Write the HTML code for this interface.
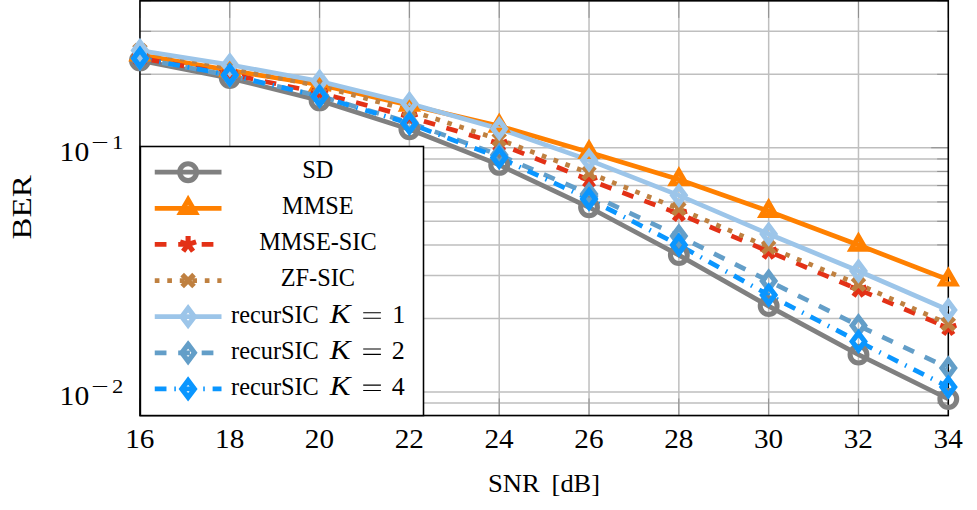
<!DOCTYPE html>
<html><head><meta charset="utf-8"><title>BER vs SNR</title>
<style>html,body{margin:0;padding:0;background:#fff;}body{width:977px;height:510px;overflow:hidden;position:relative;font-family:"Liberation Serif",serif;}</style>
</head><body>
<svg width="977" height="510" viewBox="0 0 977 510" style="position:absolute;left:0;top:0">
<rect width="977" height="510" fill="#fff"/>
<path d="M229.77,0.8V415.55M319.58,0.8V415.55M409.40,0.8V415.55M499.22,0.8V415.55M589.03,0.8V415.55M678.85,0.8V415.55M768.67,0.8V415.55M858.48,0.8V415.55M139.95,147.77H948.30M139.95,391.89H948.30M139.95,74.29H948.30M139.95,31.30H948.30M139.95,0.80H948.30M139.95,318.41H948.30M139.95,275.42H948.30M139.95,244.92H948.30M139.95,221.26H948.30M139.95,201.93H948.30M139.95,185.59H948.30M139.95,171.43H948.30M139.95,158.94H948.30M139.95,415.55H948.30M139.95,403.06H948.30" stroke="#bfbfbf" stroke-width="1.5" fill="none"/>
<path d="M139.95,415.55v-17.10M139.95,0.8v17.10M229.77,415.55v-17.10M229.77,0.8v17.10M319.58,415.55v-17.10M319.58,0.8v17.10M409.40,415.55v-17.10M409.40,0.8v17.10M499.22,415.55v-17.10M499.22,0.8v17.10M589.03,415.55v-17.10M589.03,0.8v17.10M678.85,415.55v-17.10M678.85,0.8v17.10M768.67,415.55v-17.10M768.67,0.8v17.10M858.48,415.55v-17.10M858.48,0.8v17.10M948.30,415.55v-17.10M948.30,0.8v17.10M139.95,147.77h17.10M948.30,147.77h-17.10M139.95,391.89h17.10M948.30,391.89h-17.10M139.95,74.29h11.13M948.30,74.29h-11.13M139.95,31.30h11.13M948.30,31.30h-11.13M139.95,0.80h11.13M948.30,0.80h-11.13M139.95,318.41h11.13M948.30,318.41h-11.13M139.95,275.42h11.13M948.30,275.42h-11.13M139.95,244.92h11.13M948.30,244.92h-11.13M139.95,221.26h11.13M948.30,221.26h-11.13M139.95,201.93h11.13M948.30,201.93h-11.13M139.95,185.59h11.13M948.30,185.59h-11.13M139.95,171.43h11.13M948.30,171.43h-11.13M139.95,158.94h11.13M948.30,158.94h-11.13M139.95,415.55h11.13M948.30,415.55h-11.13M139.95,403.06h11.13M948.30,403.06h-11.13" stroke="#808080" stroke-width="0.8" fill="none"/>
<rect x="139.95" y="0.8" width="808.35" height="414.75" fill="none" stroke="#000" stroke-width="1.56"/>
<defs><clipPath id="cp"><rect x="139.95" y="0.8" width="808.35" height="414.75"/></clipPath></defs>
<polyline points="139.95,60.40 229.77,78.10 319.58,100.40 409.40,129.30 499.22,164.90 589.03,207.30 678.85,255.10 768.67,306.10 858.48,354.60 948.30,399.00" fill="none" stroke="#808080" stroke-width="4.69" stroke-linejoin="miter" clip-path="url(#cp)"/>
<polyline points="139.95,54.70 229.77,70.40 319.58,84.80 409.40,105.10 499.22,126.00 589.03,152.20 678.85,179.60 768.67,211.20 858.48,245.00 948.30,279.80" fill="none" stroke="#ff8000" stroke-width="4.69" stroke-linejoin="miter" clip-path="url(#cp)"/>
<polyline points="139.95,58.00 229.77,74.20 319.58,92.80 409.40,116.80 499.22,143.80 589.03,180.00 678.85,213.80 768.67,251.50 858.48,289.50 948.30,327.80" fill="none" stroke="#e33116" stroke-width="4.69" stroke-linejoin="miter" clip-path="url(#cp)" stroke-dasharray="11.73 11.73" stroke-dashoffset="-9.6"/>
<polyline points="139.95,50.50 229.77,68.30 319.58,86.00 409.40,110.30 499.22,139.60 589.03,173.00 678.85,208.70 768.67,247.20 858.48,284.30 948.30,324.00" fill="none" stroke="#bf8040" stroke-width="4.69" stroke-linejoin="miter" clip-path="url(#cp)" stroke-dasharray="4.69 7.82" stroke-dashoffset="-3.3"/>
<polyline points="139.95,50.50 229.77,64.80 319.58,81.20 409.40,103.40 499.22,128.70 589.03,160.10 678.85,195.30 768.67,234.00 858.48,271.00 948.30,310.00" fill="none" stroke="#9cc5e9" stroke-width="4.69" stroke-linejoin="miter" clip-path="url(#cp)"/>
<polyline points="139.95,58.50 229.77,75.50 319.58,96.00 409.40,122.50 499.22,155.00 589.03,194.00 678.85,236.00 768.67,281.00 858.48,325.60 948.30,368.00" fill="none" stroke="#639ec8" stroke-width="4.69" stroke-linejoin="miter" clip-path="url(#cp)" stroke-dasharray="11.73 11.73" stroke-dashoffset="0.9"/>
<polyline points="139.95,58.20 229.77,75.00 319.58,96.40 409.40,123.50 499.22,157.60 589.03,199.00 678.85,245.00 768.67,295.00 858.48,341.50 948.30,387.00" fill="none" stroke="#0a96ff" stroke-width="4.69" stroke-linejoin="miter" clip-path="url(#cp)" stroke-dasharray="11.73 7.82 1.56 7.82"/>
<circle cx="139.95" cy="60.40" r="8.40" fill="none" stroke="#808080" stroke-width="5.10"/>
<circle cx="229.77" cy="78.10" r="8.40" fill="none" stroke="#808080" stroke-width="5.10"/>
<circle cx="319.58" cy="100.40" r="8.40" fill="none" stroke="#808080" stroke-width="5.10"/>
<circle cx="409.40" cy="129.30" r="8.40" fill="none" stroke="#808080" stroke-width="5.10"/>
<circle cx="499.22" cy="164.90" r="8.40" fill="none" stroke="#808080" stroke-width="5.10"/>
<circle cx="589.03" cy="207.30" r="8.40" fill="none" stroke="#808080" stroke-width="5.10"/>
<circle cx="678.85" cy="255.10" r="8.40" fill="none" stroke="#808080" stroke-width="5.10"/>
<circle cx="768.67" cy="306.10" r="8.40" fill="none" stroke="#808080" stroke-width="5.10"/>
<circle cx="858.48" cy="354.60" r="8.40" fill="none" stroke="#808080" stroke-width="5.10"/>
<circle cx="948.30" cy="399.00" r="8.40" fill="none" stroke="#808080" stroke-width="5.10"/>
<path d="M139.95,46.30 L132.68,58.90 L147.22,58.90Z" fill="none" stroke="#ff8000" stroke-width="5.10" stroke-linejoin="miter" stroke-miterlimit="10"/>
<path d="M229.77,62.00 L222.49,74.60 L237.04,74.60Z" fill="none" stroke="#ff8000" stroke-width="5.10" stroke-linejoin="miter" stroke-miterlimit="10"/>
<path d="M319.58,76.40 L312.31,89.00 L326.86,89.00Z" fill="none" stroke="#ff8000" stroke-width="5.10" stroke-linejoin="miter" stroke-miterlimit="10"/>
<path d="M409.40,96.70 L402.13,109.30 L416.67,109.30Z" fill="none" stroke="#ff8000" stroke-width="5.10" stroke-linejoin="miter" stroke-miterlimit="10"/>
<path d="M499.22,117.60 L491.94,130.20 L506.49,130.20Z" fill="none" stroke="#ff8000" stroke-width="5.10" stroke-linejoin="miter" stroke-miterlimit="10"/>
<path d="M589.03,143.80 L581.76,156.40 L596.31,156.40Z" fill="none" stroke="#ff8000" stroke-width="5.10" stroke-linejoin="miter" stroke-miterlimit="10"/>
<path d="M678.85,171.20 L671.58,183.80 L686.12,183.80Z" fill="none" stroke="#ff8000" stroke-width="5.10" stroke-linejoin="miter" stroke-miterlimit="10"/>
<path d="M768.67,202.80 L761.39,215.40 L775.94,215.40Z" fill="none" stroke="#ff8000" stroke-width="5.10" stroke-linejoin="miter" stroke-miterlimit="10"/>
<path d="M858.48,236.60 L851.21,249.20 L865.76,249.20Z" fill="none" stroke="#ff8000" stroke-width="5.10" stroke-linejoin="miter" stroke-miterlimit="10"/>
<path d="M948.30,271.40 L941.03,284.00 L955.57,284.00Z" fill="none" stroke="#ff8000" stroke-width="5.10" stroke-linejoin="miter" stroke-miterlimit="10"/>
<path d="M139.95,58.00L139.95,49.60M139.95,58.00L131.96,55.40M139.95,58.00L135.01,64.80M139.95,58.00L144.89,64.80M139.95,58.00L147.94,55.40" fill="none" stroke="#e33116" stroke-width="5.10"/>
<path d="M229.77,74.20L229.77,65.80M229.77,74.20L221.78,71.60M229.77,74.20L224.83,81.00M229.77,74.20L234.70,81.00M229.77,74.20L237.76,71.60" fill="none" stroke="#e33116" stroke-width="5.10"/>
<path d="M319.58,92.80L319.58,84.40M319.58,92.80L311.59,90.20M319.58,92.80L314.65,99.60M319.58,92.80L324.52,99.60M319.58,92.80L327.57,90.20" fill="none" stroke="#e33116" stroke-width="5.10"/>
<path d="M409.40,116.80L409.40,108.40M409.40,116.80L401.41,114.20M409.40,116.80L404.46,123.60M409.40,116.80L414.34,123.60M409.40,116.80L417.39,114.20" fill="none" stroke="#e33116" stroke-width="5.10"/>
<path d="M499.22,143.80L499.22,135.40M499.22,143.80L491.23,141.20M499.22,143.80L494.28,150.60M499.22,143.80L504.15,150.60M499.22,143.80L507.21,141.20" fill="none" stroke="#e33116" stroke-width="5.10"/>
<path d="M589.03,180.00L589.03,171.60M589.03,180.00L581.04,177.40M589.03,180.00L584.10,186.80M589.03,180.00L593.97,186.80M589.03,180.00L597.02,177.40" fill="none" stroke="#e33116" stroke-width="5.10"/>
<path d="M678.85,213.80L678.85,205.40M678.85,213.80L670.86,211.20M678.85,213.80L673.91,220.60M678.85,213.80L683.79,220.60M678.85,213.80L686.84,211.20" fill="none" stroke="#e33116" stroke-width="5.10"/>
<path d="M768.67,251.50L768.67,243.10M768.67,251.50L760.68,248.90M768.67,251.50L763.73,258.30M768.67,251.50L773.60,258.30M768.67,251.50L776.66,248.90" fill="none" stroke="#e33116" stroke-width="5.10"/>
<path d="M858.48,289.50L858.48,281.10M858.48,289.50L850.49,286.90M858.48,289.50L853.55,296.30M858.48,289.50L863.42,296.30M858.48,289.50L866.47,286.90" fill="none" stroke="#e33116" stroke-width="5.10"/>
<path d="M948.30,327.80L948.30,319.40M948.30,327.80L940.31,325.20M948.30,327.80L943.36,334.60M948.30,327.80L953.24,334.60M948.30,327.80L956.29,325.20" fill="none" stroke="#e33116" stroke-width="5.10"/>
<path d="M134.01,44.56L145.89,56.44M134.01,56.44L145.89,44.56" fill="none" stroke="#bf8040" stroke-width="5.10"/>
<path d="M223.83,62.36L235.71,74.24M223.83,74.24L235.71,62.36" fill="none" stroke="#bf8040" stroke-width="5.10"/>
<path d="M313.64,80.06L325.52,91.94M313.64,91.94L325.52,80.06" fill="none" stroke="#bf8040" stroke-width="5.10"/>
<path d="M403.46,104.36L415.34,116.24M403.46,116.24L415.34,104.36" fill="none" stroke="#bf8040" stroke-width="5.10"/>
<path d="M493.28,133.66L505.16,145.54M493.28,145.54L505.16,133.66" fill="none" stroke="#bf8040" stroke-width="5.10"/>
<path d="M583.09,167.06L594.97,178.94M583.09,178.94L594.97,167.06" fill="none" stroke="#bf8040" stroke-width="5.10"/>
<path d="M672.91,202.76L684.79,214.64M672.91,214.64L684.79,202.76" fill="none" stroke="#bf8040" stroke-width="5.10"/>
<path d="M762.73,241.26L774.61,253.14M762.73,253.14L774.61,241.26" fill="none" stroke="#bf8040" stroke-width="5.10"/>
<path d="M852.54,278.36L864.42,290.24M852.54,290.24L864.42,278.36" fill="none" stroke="#bf8040" stroke-width="5.10"/>
<path d="M942.36,318.06L954.24,329.94M942.36,329.94L954.24,318.06" fill="none" stroke="#bf8040" stroke-width="5.10"/>
<path d="M139.95,42.10 L146.25,50.50 L139.95,58.90 L133.65,50.50Z" fill="none" stroke="#9cc5e9" stroke-width="5.10" stroke-linejoin="miter" stroke-miterlimit="10"/>
<path d="M229.77,56.40 L236.07,64.80 L229.77,73.20 L223.47,64.80Z" fill="none" stroke="#9cc5e9" stroke-width="5.10" stroke-linejoin="miter" stroke-miterlimit="10"/>
<path d="M319.58,72.80 L325.88,81.20 L319.58,89.60 L313.28,81.20Z" fill="none" stroke="#9cc5e9" stroke-width="5.10" stroke-linejoin="miter" stroke-miterlimit="10"/>
<path d="M409.40,95.00 L415.70,103.40 L409.40,111.80 L403.10,103.40Z" fill="none" stroke="#9cc5e9" stroke-width="5.10" stroke-linejoin="miter" stroke-miterlimit="10"/>
<path d="M499.22,120.30 L505.52,128.70 L499.22,137.10 L492.92,128.70Z" fill="none" stroke="#9cc5e9" stroke-width="5.10" stroke-linejoin="miter" stroke-miterlimit="10"/>
<path d="M589.03,151.70 L595.33,160.10 L589.03,168.50 L582.73,160.10Z" fill="none" stroke="#9cc5e9" stroke-width="5.10" stroke-linejoin="miter" stroke-miterlimit="10"/>
<path d="M678.85,186.90 L685.15,195.30 L678.85,203.70 L672.55,195.30Z" fill="none" stroke="#9cc5e9" stroke-width="5.10" stroke-linejoin="miter" stroke-miterlimit="10"/>
<path d="M768.67,225.60 L774.97,234.00 L768.67,242.40 L762.37,234.00Z" fill="none" stroke="#9cc5e9" stroke-width="5.10" stroke-linejoin="miter" stroke-miterlimit="10"/>
<path d="M858.48,262.60 L864.78,271.00 L858.48,279.40 L852.18,271.00Z" fill="none" stroke="#9cc5e9" stroke-width="5.10" stroke-linejoin="miter" stroke-miterlimit="10"/>
<path d="M948.30,301.60 L954.60,310.00 L948.30,318.40 L942.00,310.00Z" fill="none" stroke="#9cc5e9" stroke-width="5.10" stroke-linejoin="miter" stroke-miterlimit="10"/>
<path d="M139.95,50.10 L146.25,58.50 L139.95,66.90 L133.65,58.50Z" fill="none" stroke="#639ec8" stroke-width="5.10" stroke-linejoin="miter" stroke-miterlimit="10"/>
<path d="M229.77,67.10 L236.07,75.50 L229.77,83.90 L223.47,75.50Z" fill="none" stroke="#639ec8" stroke-width="5.10" stroke-linejoin="miter" stroke-miterlimit="10"/>
<path d="M319.58,87.60 L325.88,96.00 L319.58,104.40 L313.28,96.00Z" fill="none" stroke="#639ec8" stroke-width="5.10" stroke-linejoin="miter" stroke-miterlimit="10"/>
<path d="M409.40,114.10 L415.70,122.50 L409.40,130.90 L403.10,122.50Z" fill="none" stroke="#639ec8" stroke-width="5.10" stroke-linejoin="miter" stroke-miterlimit="10"/>
<path d="M499.22,146.60 L505.52,155.00 L499.22,163.40 L492.92,155.00Z" fill="none" stroke="#639ec8" stroke-width="5.10" stroke-linejoin="miter" stroke-miterlimit="10"/>
<path d="M589.03,185.60 L595.33,194.00 L589.03,202.40 L582.73,194.00Z" fill="none" stroke="#639ec8" stroke-width="5.10" stroke-linejoin="miter" stroke-miterlimit="10"/>
<path d="M678.85,227.60 L685.15,236.00 L678.85,244.40 L672.55,236.00Z" fill="none" stroke="#639ec8" stroke-width="5.10" stroke-linejoin="miter" stroke-miterlimit="10"/>
<path d="M768.67,272.60 L774.97,281.00 L768.67,289.40 L762.37,281.00Z" fill="none" stroke="#639ec8" stroke-width="5.10" stroke-linejoin="miter" stroke-miterlimit="10"/>
<path d="M858.48,317.20 L864.78,325.60 L858.48,334.00 L852.18,325.60Z" fill="none" stroke="#639ec8" stroke-width="5.10" stroke-linejoin="miter" stroke-miterlimit="10"/>
<path d="M948.30,359.60 L954.60,368.00 L948.30,376.40 L942.00,368.00Z" fill="none" stroke="#639ec8" stroke-width="5.10" stroke-linejoin="miter" stroke-miterlimit="10"/>
<path d="M139.95,49.80 L146.25,58.20 L139.95,66.60 L133.65,58.20Z" fill="none" stroke="#0a96ff" stroke-width="5.10" stroke-linejoin="miter" stroke-miterlimit="10"/>
<path d="M229.77,66.60 L236.07,75.00 L229.77,83.40 L223.47,75.00Z" fill="none" stroke="#0a96ff" stroke-width="5.10" stroke-linejoin="miter" stroke-miterlimit="10"/>
<path d="M319.58,88.00 L325.88,96.40 L319.58,104.80 L313.28,96.40Z" fill="none" stroke="#0a96ff" stroke-width="5.10" stroke-linejoin="miter" stroke-miterlimit="10"/>
<path d="M409.40,115.10 L415.70,123.50 L409.40,131.90 L403.10,123.50Z" fill="none" stroke="#0a96ff" stroke-width="5.10" stroke-linejoin="miter" stroke-miterlimit="10"/>
<path d="M499.22,149.20 L505.52,157.60 L499.22,166.00 L492.92,157.60Z" fill="none" stroke="#0a96ff" stroke-width="5.10" stroke-linejoin="miter" stroke-miterlimit="10"/>
<path d="M589.03,190.60 L595.33,199.00 L589.03,207.40 L582.73,199.00Z" fill="none" stroke="#0a96ff" stroke-width="5.10" stroke-linejoin="miter" stroke-miterlimit="10"/>
<path d="M678.85,236.60 L685.15,245.00 L678.85,253.40 L672.55,245.00Z" fill="none" stroke="#0a96ff" stroke-width="5.10" stroke-linejoin="miter" stroke-miterlimit="10"/>
<path d="M768.67,286.60 L774.97,295.00 L768.67,303.40 L762.37,295.00Z" fill="none" stroke="#0a96ff" stroke-width="5.10" stroke-linejoin="miter" stroke-miterlimit="10"/>
<path d="M858.48,333.10 L864.78,341.50 L858.48,349.90 L852.18,341.50Z" fill="none" stroke="#0a96ff" stroke-width="5.10" stroke-linejoin="miter" stroke-miterlimit="10"/>
<path d="M948.30,378.60 L954.60,387.00 L948.30,395.40 L942.00,387.00Z" fill="none" stroke="#0a96ff" stroke-width="5.10" stroke-linejoin="miter" stroke-miterlimit="10"/>
<rect x="140.4" y="146.5" width="283.10" height="269.05" fill="#fff" stroke="#000" stroke-width="1.56"/>
<path d="M154.75,172.20H221.5" fill="none" stroke="#808080" stroke-width="4.69"/>
<circle cx="188.10" cy="172.20" r="8.40" fill="none" stroke="#808080" stroke-width="5.10"/>
<path d="M154.75,208.32H221.5" fill="none" stroke="#ff8000" stroke-width="4.69"/>
<path d="M188.10,199.92 L180.83,212.52 L195.37,212.52Z" fill="none" stroke="#ff8000" stroke-width="5.10" stroke-linejoin="miter" stroke-miterlimit="10"/>
<path d="M154.75,244.44H221.5" fill="none" stroke="#e33116" stroke-width="4.69" stroke-dasharray="11.73 11.73"/>
<path d="M188.10,244.44L188.10,236.04M188.10,244.44L180.11,241.84M188.10,244.44L183.16,251.24M188.10,244.44L193.04,251.24M188.10,244.44L196.09,241.84" fill="none" stroke="#e33116" stroke-width="5.10"/>
<path d="M154.75,280.56H221.5" fill="none" stroke="#bf8040" stroke-width="4.69" stroke-dasharray="4.69 7.82"/>
<path d="M182.16,274.62L194.04,286.50M182.16,286.50L194.04,274.62" fill="none" stroke="#bf8040" stroke-width="5.10"/>
<path d="M154.75,316.68H221.5" fill="none" stroke="#9cc5e9" stroke-width="4.69"/>
<path d="M188.10,308.28 L194.40,316.68 L188.10,325.08 L181.80,316.68Z" fill="none" stroke="#9cc5e9" stroke-width="5.10" stroke-linejoin="miter" stroke-miterlimit="10"/>
<path d="M154.75,352.80H221.5" fill="none" stroke="#639ec8" stroke-width="4.69" stroke-dasharray="11.73 11.73"/>
<path d="M188.10,344.40 L194.40,352.80 L188.10,361.20 L181.80,352.80Z" fill="none" stroke="#639ec8" stroke-width="5.10" stroke-linejoin="miter" stroke-miterlimit="10"/>
<path d="M154.75,388.92H221.5" fill="none" stroke="#0a96ff" stroke-width="4.69" stroke-dasharray="11.73 7.82 1.56 7.82"/>
<path d="M188.10,380.52 L194.40,388.92 L188.10,397.32 L181.80,388.92Z" fill="none" stroke="#0a96ff" stroke-width="5.10" stroke-linejoin="miter" stroke-miterlimit="10"/>
<text x="317.90" y="177.90" font-family="Liberation Serif, serif" font-size="24.3" text-anchor="middle" >SD</text>
<text x="317.90" y="214.05" font-family="Liberation Serif, serif" font-size="24.3" text-anchor="middle" >MMSE</text>
<text x="317.90" y="250.20" font-family="Liberation Serif, serif" font-size="24.3" text-anchor="middle" >MMSE-SIC</text>
<text x="317.90" y="286.35" font-family="Liberation Serif, serif" font-size="24.3" text-anchor="middle" >ZF-SIC</text>
<text x="231.10" y="322.50" font-family="Liberation Serif, serif" font-size="24.3" text-anchor="start" >recurSIC</text>
<text transform="translate(329.8,322.50) scale(1.17,1)" font-family="Liberation Serif, serif" font-size="26.6" font-style="italic">K</text>
<path d="M363.2,312.80H380.9M363.2,318.20H380.9" stroke="#000" stroke-width="1.1" fill="none"/>
<text x="392.20" y="322.50" font-family="Liberation Serif, serif" font-size="26" text-anchor="start" >1</text>
<text x="231.10" y="358.65" font-family="Liberation Serif, serif" font-size="24.3" text-anchor="start" >recurSIC</text>
<text transform="translate(329.8,358.65) scale(1.17,1)" font-family="Liberation Serif, serif" font-size="26.6" font-style="italic">K</text>
<path d="M363.2,348.95H380.9M363.2,354.35H380.9" stroke="#000" stroke-width="1.1" fill="none"/>
<text x="391.80" y="358.65" font-family="Liberation Serif, serif" font-size="26" text-anchor="start" >2</text>
<text x="231.10" y="394.80" font-family="Liberation Serif, serif" font-size="24.3" text-anchor="start" >recurSIC</text>
<text transform="translate(329.8,394.80) scale(1.17,1)" font-family="Liberation Serif, serif" font-size="26.6" font-style="italic">K</text>
<path d="M363.2,385.10H380.9M363.2,390.50H380.9" stroke="#000" stroke-width="1.1" fill="none"/>
<text x="391.80" y="394.80" font-family="Liberation Serif, serif" font-size="26" text-anchor="start" >4</text>
<text x="139.85" y="447.60" font-family="Liberation Serif, serif" font-size="27.2" text-anchor="middle" textLength="29.2" lengthAdjust="spacingAndGlyphs" >16</text>
<text x="229.67" y="447.60" font-family="Liberation Serif, serif" font-size="27.2" text-anchor="middle" textLength="29.2" lengthAdjust="spacingAndGlyphs" >18</text>
<text x="319.48" y="447.60" font-family="Liberation Serif, serif" font-size="27.2" text-anchor="middle" textLength="29.2" lengthAdjust="spacingAndGlyphs" >20</text>
<text x="409.30" y="447.60" font-family="Liberation Serif, serif" font-size="27.2" text-anchor="middle" textLength="29.2" lengthAdjust="spacingAndGlyphs" >22</text>
<text x="499.12" y="447.60" font-family="Liberation Serif, serif" font-size="27.2" text-anchor="middle" textLength="29.2" lengthAdjust="spacingAndGlyphs" >24</text>
<text x="588.93" y="447.60" font-family="Liberation Serif, serif" font-size="27.2" text-anchor="middle" textLength="29.2" lengthAdjust="spacingAndGlyphs" >26</text>
<text x="678.75" y="447.60" font-family="Liberation Serif, serif" font-size="27.2" text-anchor="middle" textLength="29.2" lengthAdjust="spacingAndGlyphs" >28</text>
<text x="768.57" y="447.60" font-family="Liberation Serif, serif" font-size="27.2" text-anchor="middle" textLength="29.2" lengthAdjust="spacingAndGlyphs" >30</text>
<text x="858.38" y="447.60" font-family="Liberation Serif, serif" font-size="27.2" text-anchor="middle" textLength="29.2" lengthAdjust="spacingAndGlyphs" >32</text>
<text x="948.20" y="447.60" font-family="Liberation Serif, serif" font-size="27.2" text-anchor="middle" textLength="29.2" lengthAdjust="spacingAndGlyphs" >34</text>
<text x="59.60" y="161.10" font-family="Liberation Serif, serif" font-size="27.2" text-anchor="start" textLength="29.6" lengthAdjust="spacingAndGlyphs" >10</text>
<text x="91.20" y="148.70" font-family="Liberation Serif, serif" font-size="19.3" text-anchor="start" textLength="17.4" lengthAdjust="spacingAndGlyphs" >−</text>
<text x="112.00" y="148.70" font-family="Liberation Serif, serif" font-size="19.3" text-anchor="start" textLength="11.3" lengthAdjust="spacingAndGlyphs" >1</text>
<text x="59.60" y="405.25" font-family="Liberation Serif, serif" font-size="27.2" text-anchor="start" textLength="29.6" lengthAdjust="spacingAndGlyphs" >10</text>
<text x="91.20" y="392.85" font-family="Liberation Serif, serif" font-size="19.3" text-anchor="start" textLength="17.4" lengthAdjust="spacingAndGlyphs" >−</text>
<text x="112.00" y="392.85" font-family="Liberation Serif, serif" font-size="19.3" text-anchor="start" textLength="11.3" lengthAdjust="spacingAndGlyphs" >2</text>
<text x="487.90" y="492.10" font-family="Liberation Serif, serif" font-size="26" text-anchor="start" textLength="51.8" lengthAdjust="spacingAndGlyphs" >SNR</text>
<text x="551.60" y="492.10" font-family="Liberation Serif, serif" font-size="26" text-anchor="start" textLength="48.4" lengthAdjust="spacingAndGlyphs" >[dB]</text>
<text transform="translate(31.4,239.4) rotate(-90)" font-family="Liberation Serif, serif" font-size="28.2" textLength="64" lengthAdjust="spacingAndGlyphs">BER</text>
</svg>
</body></html>
